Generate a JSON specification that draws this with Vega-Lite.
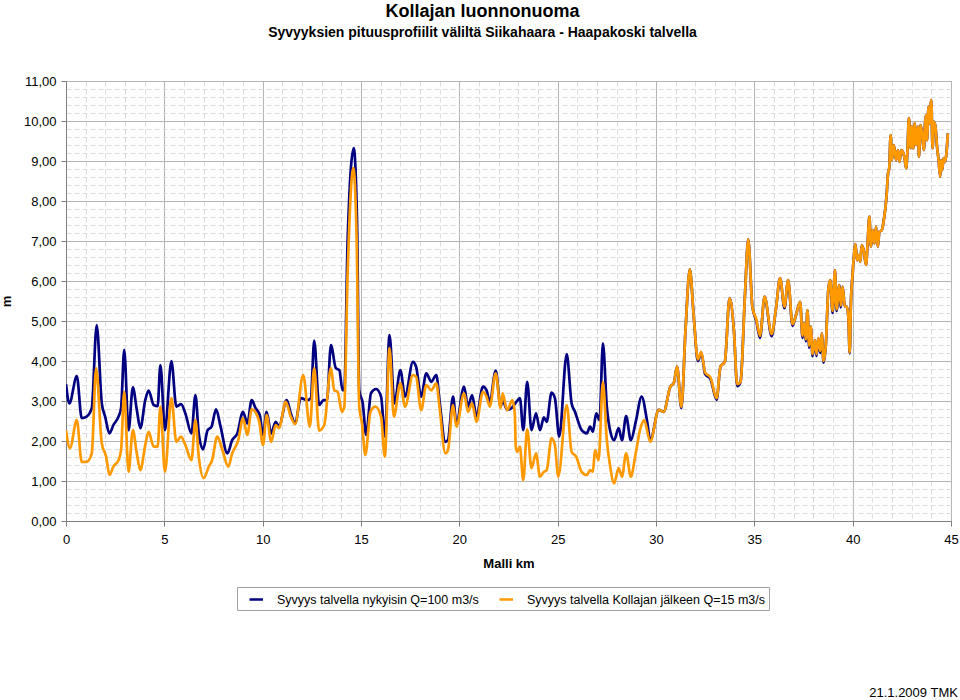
{
"$schema": "https://vega.github.io/schema/vega-lite/v6.json",
"width": 885, "height": 440,
"autosize": "none",
"padding": {"left": 66, "top": 81, "right": 9, "bottom": 179},
"background": "white",
"config": {"font": "Liberation Sans", "view": {"stroke": "#a0a0a0", "strokeWidth": 1}},
"title": {"text": "Kollajan luonnonuoma", "subtitle": "Syvyyksien pituusprofiilit väliltä Siikahaara - Haapakoski talvella", "font": "Liberation Sans", "fontSize": 18, "fontWeight": "bold", "color": "#000000", "subtitleFont": "Liberation Sans", "subtitleFontSize": 14, "subtitleFontWeight": "bold", "subtitleColor": "#000000", "subtitlePadding": 5, "anchor": "middle", "dx": -26, "offset": 35},
"datasets": {
"nyk": [
{"km":0,"v":3.42},{"km":0.17,"v":2.94},{"km":0.55,"v":3.62},{"km":0.8,"v":2.57},{"km":1.05,"v":2.61},{"km":1.31,"v":2.82},{"km":1.56,"v":4.9},{"km":1.82,"v":2.94},{"km":1.99,"v":2.61},{"km":2.21,"v":2.19},{"km":2.41,"v":2.4},{"km":2.67,"v":2.61},{"km":2.8,"v":2.82},{"km":2.96,"v":4.28},{"km":3.18,"v":2.27},{"km":3.4,"v":3.34},{"km":3.6,"v":2.78},{"km":3.78,"v":2.32},{"km":4.03,"v":3.02},{"km":4.2,"v":3.26},{"km":4.46,"v":2.9},{"km":4.66,"v":2.87},{"km":4.8,"v":3.9},{"km":5.03,"v":2.27},{"km":5.36,"v":4.0},{"km":5.61,"v":2.86},{"km":5.85,"v":2.92},{"km":6.07,"v":2.69},{"km":6.38,"v":2.19},{"km":6.58,"v":3.15},{"km":6.75,"v":2.19},{"km":6.97,"v":1.79},{"km":7.2,"v":2.27},{"km":7.4,"v":2.36},{"km":7.63,"v":2.79},{"km":7.86,"v":2.36},{"km":8.2,"v":1.69},{"km":8.45,"v":2.02},{"km":8.71,"v":2.19},{"km":9.0,"v":2.73},{"km":9.22,"v":2.44},{"km":9.44,"v":3.02},{"km":9.64,"v":2.82},{"km":9.85,"v":2.65},{"km":10.02,"v":2.15},{"km":10.2,"v":2.73},{"km":10.43,"v":2.19},{"km":10.66,"v":2.48},{"km":10.83,"v":2.37},{"km":11.22,"v":3.02},{"km":11.43,"v":2.69},{"km":11.65,"v":2.44},{"km":11.94,"v":3.07},{"km":12.28,"v":3.02},{"km":12.45,"v":3.07},{"km":12.62,"v":4.51},{"km":12.87,"v":2.9},{"km":13.1,"v":3.02},{"km":13.27,"v":3.02},{"km":13.47,"v":4.4},{"km":13.72,"v":3.82},{"km":13.9,"v":3.77},{"km":14.06,"v":3.27},{"km":14.15,"v":3.27},{"km":14.32,"v":7.02},{"km":14.63,"v":9.32},{"km":14.8,"v":7.45},{"km":14.91,"v":3.27},{"km":15.09,"v":2.94},{"km":15.26,"v":2.15},{"km":15.51,"v":3.2},{"km":15.77,"v":3.3},{"km":16.02,"v":3.11},{"km":16.22,"v":2.11},{"km":16.45,"v":4.65},{"km":16.7,"v":2.94},{"km":17.0,"v":3.77},{"km":17.24,"v":3.11},{"km":17.64,"v":3.98},{"km":17.8,"v":3.86},{"km":18.06,"v":3.11},{"km":18.32,"v":3.69},{"km":18.57,"v":3.48},{"km":18.83,"v":3.65},{"km":18.99,"v":3.02},{"km":19.29,"v":1.98},{"km":19.42,"v":2.02},{"km":19.68,"v":3.11},{"km":19.85,"v":2.44},{"km":20.24,"v":3.36},{"km":20.44,"v":2.86},{"km":20.65,"v":3.15},{"km":20.87,"v":2.61},{"km":21.2,"v":3.36},{"km":21.38,"v":3.27},{"km":21.55,"v":2.98},{"km":21.85,"v":3.76},{"km":22.1,"v":2.86},{"km":22.2,"v":3.02},{"km":22.43,"v":2.78},{"km":22.65,"v":2.82},{"km":22.9,"v":2.98},{"km":23.08,"v":3.07},{"km":23.25,"v":2.27},{"km":23.45,"v":3.48},{"km":23.67,"v":2.27},{"km":23.9,"v":2.69},{"km":24.1,"v":2.27},{"km":24.3,"v":2.59},{"km":24.44,"v":2.48},{"km":24.69,"v":3.21},{"km":24.86,"v":3.07},{"km":25.08,"v":2.11},{"km":25.46,"v":4.17},{"km":25.71,"v":2.94},{"km":25.88,"v":2.73},{"km":26.22,"v":2.27},{"km":26.48,"v":2.19},{"km":26.65,"v":2.36},{"km":26.79,"v":2.23},{"km":26.96,"v":2.69},{"km":27.13,"v":2.52},{"km":27.3,"v":4.44},{"km":27.5,"v":2.86},{"km":27.7,"v":2.19},{"km":27.87,"v":2.02},{"km":28.1,"v":2.32},{"km":28.27,"v":2.02},{"km":28.48,"v":2.62},{"km":28.72,"v":2.02},{"km":28.97,"v":2.48},{"km":29.27,"v":3.11},{"km":29.54,"v":2.52},{"km":29.71,"v":2.02},
{"km":30.14,"v":2.78},{"km":30.39,"v":2.73},{"km":30.73,"v":3.36},{"km":30.9,"v":3.44},{"km":31.07,"v":3.86},{"km":31.29,"v":2.82},{"km":31.5,"v":4.77},{"km":31.72,"v":6.29},{"km":31.92,"v":5.11},{"km":32.13,"v":4.0},{"km":32.3,"v":4.21},{"km":32.5,"v":3.67},{"km":32.77,"v":3.55},{"km":33.08,"v":3.03},{"km":33.28,"v":3.86},{"km":33.5,"v":3.98},{"km":33.74,"v":5.57},{"km":33.96,"v":4.77},{"km":34.13,"v":3.37},{"km":34.3,"v":3.48},{"km":34.52,"v":5.61},{"km":34.69,"v":7.04},{"km":34.9,"v":5.36},{"km":35.1,"v":5.0},{"km":35.29,"v":4.58},{"km":35.52,"v":5.61},{"km":35.88,"v":4.62},{"km":36.09,"v":5.27},{"km":36.31,"v":6.07},{"km":36.53,"v":5.32},{"km":36.72,"v":6.02},{"km":36.94,"v":4.88},{"km":37.1,"v":5.11},{"km":37.33,"v":5.48},{"km":37.45,"v":4.58},{"km":37.53,"v":4.94},{"km":37.62,"v":4.49},{"km":37.7,"v":5.27},{"km":37.79,"v":4.33},{"km":37.87,"v":4.86},{"km":37.96,"v":4.12},{"km":38.08,"v":4.52},{"km":38.16,"v":4.12},{"km":38.25,"v":4.57},{"km":38.35,"v":4.2},{"km":38.43,"v":4.69},{"km":38.52,"v":3.96},{"km":38.64,"v":4.44},{"km":38.76,"v":5.77},{"km":38.86,"v":6.02},{"km":38.98,"v":5.2},{"km":39.1,"v":6.27},{"km":39.18,"v":5.25},{"km":39.32,"v":5.9},{"km":39.4,"v":5.34},{"km":39.49,"v":5.86},{"km":39.6,"v":5.36},{"km":39.7,"v":5.36},{"km":39.78,"v":5.11},{"km":39.85,"v":4.19},{"km":39.91,"v":5.44},{"km":40.0,"v":6.19},{"km":40.09,"v":6.77},{"km":40.14,"v":6.92},{"km":40.22,"v":6.52},{"km":40.31,"v":6.65},{"km":40.39,"v":6.48},{"km":40.46,"v":6.9},{"km":40.56,"v":6.77},{"km":40.68,"v":6.4},{"km":40.76,"v":6.94},{"km":40.85,"v":7.61},{"km":40.93,"v":6.86},{"km":41.02,"v":7.27},{"km":41.11,"v":6.94},{"km":41.19,"v":7.36},{"km":41.28,"v":6.86},{"km":41.36,"v":7.23},{"km":41.48,"v":7.27},{"km":41.57,"v":7.48},{"km":41.72,"v":8.11},{"km":41.8,"v":8.69},{"km":41.86,"v":8.82},{"km":41.93,"v":9.65},{"km":41.99,"v":9.02},{"km":42.09,"v":9.4},{"km":42.21,"v":9.02},{"km":42.3,"v":9.27},{"km":42.38,"v":8.98},{"km":42.47,"v":9.27},{"km":42.55,"v":9.23},{"km":42.64,"v":9.07},{"km":42.72,"v":8.82},{"km":42.78,"v":9.19},{"km":42.86,"v":10.07},{"km":42.94,"v":9.32},{"km":43.01,"v":9.86},{"km":43.08,"v":9.32},{"km":43.15,"v":9.94},{"km":43.23,"v":9.4},{"km":43.32,"v":9.86},{"km":43.37,"v":9.11},{"km":43.45,"v":9.9},{"km":43.53,"v":9.69},{"km":43.62,"v":9.27},{"km":43.68,"v":9.94},{"km":43.73,"v":10.15},{"km":43.78,"v":9.52},{"km":43.86,"v":10.36},{"km":43.9,"v":9.94},{"km":44.0,"v":10.52},{"km":44.06,"v":9.32},{"km":44.13,"v":9.98},{"km":44.21,"v":9.86},{"km":44.29,"v":9.36},{"km":44.37,"v":9.02},{"km":44.45,"v":8.61},{"km":44.5,"v":9.02},{"km":44.55,"v":8.77},{"km":44.62,"v":9.07},{"km":44.7,"v":8.98},{"km":44.84,"v":9.69}
],
"jalk": [
{"km":0,"v":2.27},{"km":0.2,"v":1.82},{"km":0.55,"v":2.52},{"km":0.8,"v":1.48},{"km":1.05,"v":1.48},{"km":1.31,"v":1.69},{"km":1.53,"v":3.82},{"km":1.82,"v":1.94},{"km":2.04,"v":1.61},{"km":2.21,"v":1.15},{"km":2.41,"v":1.36},{"km":2.67,"v":1.52},{"km":2.8,"v":1.77},{"km":2.96,"v":3.23},{"km":3.18,"v":1.23},{"km":3.4,"v":2.27},{"km":3.6,"v":1.69},{"km":3.78,"v":1.27},{"km":4.03,"v":1.9},{"km":4.2,"v":2.23},{"km":4.46,"v":1.86},{"km":4.66,"v":1.86},{"km":4.8,"v":2.86},{"km":5.03,"v":1.23},{"km":5.36,"v":3.07},{"km":5.61,"v":1.98},{"km":5.85,"v":2.11},{"km":6.07,"v":1.9},{"km":6.38,"v":1.52},{"km":6.58,"v":2.52},{"km":6.75,"v":1.61},{"km":7.0,"v":1.07},{"km":7.26,"v":1.36},{"km":7.43,"v":1.52},{"km":7.69,"v":2.11},{"km":7.95,"v":1.78},{"km":8.25,"v":1.36},{"km":8.45,"v":1.69},{"km":8.76,"v":2.02},{"km":9.0,"v":2.57},{"km":9.22,"v":2.15},{"km":9.44,"v":2.79},{"km":9.81,"v":2.52},{"km":10.02,"v":1.9},{"km":10.2,"v":2.65},{"km":10.43,"v":1.98},{"km":10.66,"v":2.4},{"km":10.83,"v":2.32},{"km":11.17,"v":2.98},{"km":11.43,"v":2.61},{"km":11.65,"v":2.42},{"km":12.06,"v":3.65},{"km":12.4,"v":2.36},{"km":12.62,"v":3.82},{"km":12.87,"v":2.26},{"km":13.13,"v":2.4},{"km":13.47,"v":3.82},{"km":13.64,"v":3.27},{"km":13.81,"v":3.23},{"km":14.03,"v":2.73},{"km":14.15,"v":2.86},{"km":14.32,"v":6.19},{"km":14.61,"v":8.82},{"km":14.78,"v":7.02},{"km":14.91,"v":2.86},{"km":15.05,"v":2.44},{"km":15.22,"v":1.65},{"km":15.48,"v":2.73},{"km":15.73,"v":2.86},{"km":16.02,"v":2.61},{"km":16.21,"v":1.61},{"km":16.45,"v":4.32},{"km":16.67,"v":2.61},{"km":17.0,"v":3.44},{"km":17.24,"v":2.86},{"km":17.64,"v":3.65},{"km":17.8,"v":3.61},{"km":18.06,"v":2.77},{"km":18.32,"v":3.4},{"km":18.57,"v":3.27},{"km":18.83,"v":3.44},{"km":18.99,"v":2.86},{"km":19.29,"v":1.69},{"km":19.42,"v":1.77},{"km":19.68,"v":2.9},{"km":19.85,"v":2.36},{"km":20.24,"v":3.19},{"km":20.44,"v":2.73},{"km":20.65,"v":2.94},{"km":20.87,"v":2.48},{"km":21.2,"v":3.23},{"km":21.38,"v":3.11},{"km":21.55,"v":2.86},{"km":21.85,"v":3.69},{"km":22.1,"v":2.82},{"km":22.2,"v":3.19},{"km":22.43,"v":2.77},{"km":22.7,"v":3.02},{"km":22.82,"v":2.69},{"km":22.87,"v":1.86},{"km":22.94,"v":1.73},{"km":23.08,"v":1.86},{"km":23.25,"v":1.02},{"km":23.45,"v":2.29},{"km":23.67,"v":1.32},{"km":23.9,"v":1.69},{"km":24.1,"v":1.11},{"km":24.3,"v":1.23},{"km":24.44,"v":1.27},{"km":24.69,"v":2.07},{"km":24.86,"v":1.9},{"km":25.03,"v":1.11},{"km":25.46,"v":2.9},{"km":25.71,"v":1.73},{"km":25.94,"v":1.61},{"km":26.22,"v":1.23},{"km":26.48,"v":1.15},{"km":26.65,"v":1.27},{"km":26.79,"v":1.23},{"km":26.9,"v":1.77},{"km":27.08,"v":1.52},{"km":27.3,"v":3.48},{"km":27.5,"v":2.02},{"km":27.67,"v":1.36},{"km":27.87,"v":0.94},{"km":28.1,"v":1.32},{"km":28.27,"v":1.11},{"km":28.48,"v":1.69},{"km":28.72,"v":1.11},{"km":28.97,"v":1.7},{"km":29.2,"v":2.3},{"km":29.4,"v":2.52},{"km":29.71,"v":1.98},
{"km":30.14,"v":2.78},{"km":30.39,"v":2.73},{"km":30.73,"v":3.36},{"km":30.9,"v":3.44},{"km":31.07,"v":3.86},{"km":31.29,"v":2.85},{"km":31.5,"v":4.77},{"km":31.72,"v":6.29},{"km":31.92,"v":5.11},{"km":32.13,"v":4.04},{"km":32.3,"v":4.23},{"km":32.5,"v":3.71},{"km":32.77,"v":3.59},{"km":33.08,"v":3.07},{"km":33.28,"v":3.86},{"km":33.5,"v":3.98},{"km":33.74,"v":5.57},{"km":33.96,"v":4.77},{"km":34.13,"v":3.42},{"km":34.3,"v":3.48},{"km":34.52,"v":5.61},{"km":34.69,"v":7.04},{"km":34.9,"v":5.36},{"km":35.1,"v":5.04},{"km":35.29,"v":4.63},{"km":35.52,"v":5.61},{"km":35.88,"v":4.67},{"km":36.09,"v":5.27},{"km":36.31,"v":6.07},{"km":36.53,"v":5.36},{"km":36.72,"v":6.02},{"km":36.94,"v":4.92},{"km":37.1,"v":5.11},{"km":37.33,"v":5.48},{"km":37.45,"v":4.63},{"km":37.53,"v":4.94},{"km":37.62,"v":4.54},{"km":37.7,"v":5.27},{"km":37.79,"v":4.38},{"km":37.87,"v":4.86},{"km":37.96,"v":4.17},{"km":38.08,"v":4.52},{"km":38.16,"v":4.17},{"km":38.25,"v":4.57},{"km":38.35,"v":4.25},{"km":38.43,"v":4.69},{"km":38.52,"v":4.0},{"km":38.64,"v":4.44},{"km":38.76,"v":5.77},{"km":38.86,"v":6.02},{"km":38.98,"v":5.25},{"km":39.1,"v":6.27},{"km":39.18,"v":5.29},{"km":39.32,"v":5.9},{"km":39.4,"v":5.38},{"km":39.49,"v":5.86},{"km":39.6,"v":5.36},{"km":39.7,"v":5.36},{"km":39.78,"v":5.11},{"km":39.85,"v":4.21},{"km":39.91,"v":5.44},{"km":40.0,"v":6.19},{"km":40.09,"v":6.77},{"km":40.14,"v":6.92},{"km":40.22,"v":6.52},{"km":40.31,"v":6.65},{"km":40.39,"v":6.48},{"km":40.46,"v":6.9},{"km":40.56,"v":6.77},{"km":40.68,"v":6.4},{"km":40.76,"v":6.94},{"km":40.85,"v":7.61},{"km":40.93,"v":6.86},{"km":41.02,"v":7.27},{"km":41.11,"v":6.94},{"km":41.19,"v":7.36},{"km":41.28,"v":6.86},{"km":41.36,"v":7.23},{"km":41.48,"v":7.27},{"km":41.57,"v":7.48},{"km":41.72,"v":8.11},{"km":41.8,"v":8.69},{"km":41.86,"v":8.82},{"km":41.93,"v":9.65},{"km":41.99,"v":9.02},{"km":42.09,"v":9.4},{"km":42.21,"v":9.02},{"km":42.3,"v":9.27},{"km":42.38,"v":8.98},{"km":42.47,"v":9.27},{"km":42.55,"v":9.23},{"km":42.64,"v":9.07},{"km":42.72,"v":8.82},{"km":42.78,"v":9.19},{"km":42.86,"v":10.07},{"km":42.94,"v":9.32},{"km":43.01,"v":9.86},{"km":43.08,"v":9.32},{"km":43.15,"v":9.94},{"km":43.23,"v":9.4},{"km":43.32,"v":9.86},{"km":43.37,"v":9.11},{"km":43.45,"v":9.9},{"km":43.53,"v":9.69},{"km":43.62,"v":9.27},{"km":43.68,"v":9.94},{"km":43.73,"v":10.15},{"km":43.78,"v":9.52},{"km":43.86,"v":10.36},{"km":43.9,"v":9.94},{"km":44.0,"v":10.52},{"km":44.06,"v":9.32},{"km":44.13,"v":9.98},{"km":44.21,"v":9.86},{"km":44.29,"v":9.36},{"km":44.37,"v":9.02},{"km":44.45,"v":8.61},{"km":44.5,"v":9.02},{"km":44.55,"v":8.77},{"km":44.62,"v":9.07},{"km":44.7,"v":8.98},{"km":44.84,"v":9.69}
],
"note": [{"t": "21.1.2009 TMK"}]
},
"layer": [
{
"data": {"name": "nyk"},
"mark": {"type": "line", "interpolate": "monotone", "strokeWidth": 2.7, "clip": true},
"encoding": {
"x": {"field": "km", "type": "quantitative", "scale": {"domain": [0, 45], "nice": false, "zero": false},
"axis": {"values": [0,1,2,3,4,5,6,7,8,9,10,11,12,13,14,15,16,17,18,19,20,21,22,23,24,25,26,27,28,29,30,31,32,33,34,35,36,37,38,39,40,41,42,43,44,45],
"tickCount": 500,
"labelExpr": "datum.value % 5 === 0 ? format(datum.value, 'd') : ''", "labelOverlap": false, "labelFlush": false,
"title": "Malli km", "titleFont": "Liberation Sans", "titleFontSize": 13, "titleFontWeight": "bold", "titleColor": "#000000", "titlePadding": 11,
"labelFont": "Liberation Sans", "labelFontSize": 13, "labelColor": "#000000", "labelPadding": 7,
"domainColor": "#808080", "tickColor": "#808080", "tickSize": 5,
"tickOpacity": {"condition": {"test": "datum.value % 5 === 0", "value": 1}, "value": 0},
"grid": true,
"gridColor": {"condition": {"test": "datum.value % 5 === 0", "value": "#b4b4b4"}, "value": "#dcdcdc"},
"gridDash": {"condition": {"test": "datum.value % 5 === 0", "value": []}, "value": [5, 3]}}},
"y": {"field": "v", "type": "quantitative", "scale": {"domain": [0, 11], "nice": false},
"axis": {"values": [0,0.2,0.4,0.6,0.8,1,1.2,1.4,1.6,1.8,2,2.2,2.4,2.6,2.8,3,3.2,3.4,3.6,3.8,4,4.2,4.4,4.6,4.8,5,5.2,5.4,5.6,5.8,6,6.2,6.4,6.6,6.8,7,7.2,7.4,7.6,7.8,8,8.2,8.4,8.6,8.8,9,9.2,9.4,9.6,9.8,10,10.2,10.4,10.6,10.8,11],
"tickCount": 500,
"labelExpr": "abs(datum.value - round(datum.value)) < 0.01 ? replace(format(datum.value, '.2f'), '.', ',') : ''", "labelOverlap": false, "labelFlush": false,
"title": "m", "titleFont": "Liberation Sans", "titleFontSize": 13, "titleFontWeight": "bold", "titleColor": "#000000", "titlePadding": 10,
"labelFont": "Liberation Sans", "labelFontSize": 13, "labelColor": "#000000", "labelPadding": 5,
"domainColor": "#808080", "tickColor": "#808080", "tickSize": 5,
"tickOpacity": {"condition": {"test": "abs(datum.value - round(datum.value)) < 0.01", "value": 1}, "value": 0},
"grid": true,
"gridColor": {"condition": {"test": "abs(datum.value - round(datum.value)) < 0.01", "value": "#b4b4b4"}, "value": "#dcdcdc"},
"gridDash": {"condition": {"test": "abs(datum.value - round(datum.value)) < 0.01", "value": []}, "value": [5, 3]}}},
"color": {"datum": "Syvyys talvella nykyisin Q=100 m3/s", "type": "nominal",
"scale": {"domain": ["Syvyys talvella nykyisin Q=100 m3/s", "Syvyys talvella Kollajan jälkeen Q=15 m3/s"], "range": ["#000080", "#FF9900"]},
"legend": {"orient": "none", "legendX": 171, "legendY": 506, "direction": "horizontal", "columns": 2, "title": null,
"symbolType": "M0,0H1.93", "symbolSize": 196, "symbolStrokeWidth": 2.5, "labelFont": "Liberation Sans", "labelFontSize": 12.5, "labelColor": "#000000",
"labelOffset": 19, "columnPadding": 12, "padding": 4, "strokeColor": "#a0a0a0", "fillColor": "#ffffff", "labelLimit": 400}}
}
},
{
"data": {"name": "jalk"},
"mark": {"type": "line", "interpolate": "monotone", "strokeWidth": 2.7, "clip": true},
"encoding": {
"x": {"field": "km", "type": "quantitative"},
"y": {"field": "v", "type": "quantitative"},
"color": {"datum": "Syvyys talvella Kollajan jälkeen Q=15 m3/s", "type": "nominal"}
}
},
{
"data": {"name": "note"},
"mark": {"type": "text", "align": "right", "baseline": "middle", "font": "Liberation Sans", "fontSize": 13, "color": "#000000"},
"encoding": {
"x": {"datum": 45.35, "type": "quantitative"},
"y": {"datum": -4.3, "type": "quantitative"},
"text": {"field": "t"}
}
}
]
}
